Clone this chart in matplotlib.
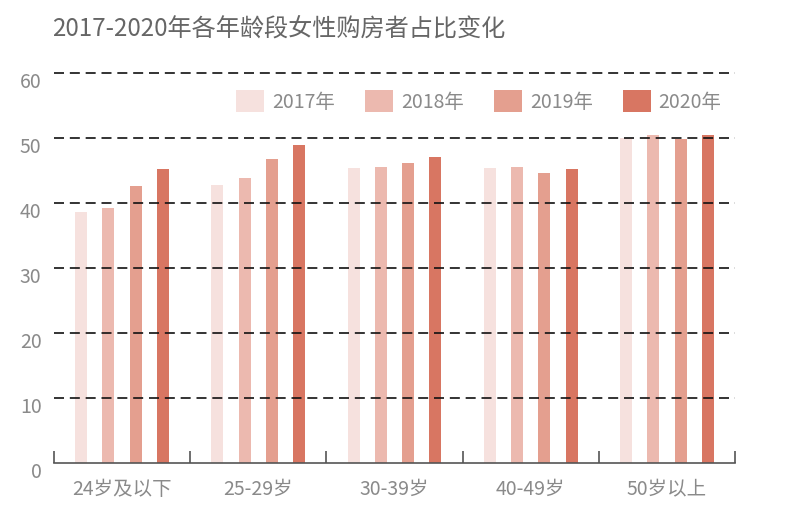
import matplotlib
matplotlib.use("Agg")
import matplotlib.pyplot as plt
import matplotlib.transforms as mtransforms
from matplotlib.patches import Patch
import numpy as np

plt.rcParams['font.family'] = ['Noto Sans CJK SC', 'DejaVu Sans']

title = "2017-2020年各年龄段女性购房者占比变化"
categories = ["24岁及以下", "25-29岁", "30-39岁", "40-49岁", "50岁以上"]
series_names = ["2017年", "2018年", "2019年", "2020年"]
v2017 = [38.6, 42.7, 45.4, 45.4, 50.0]
v2018 = [39.3, 43.9, 45.5, 45.5, 50.5]
v2019 = [42.6, 46.8, 46.2, 44.6, 49.9]
v2020 = [45.2, 49.0, 47.1, 45.3, 50.4]
yticks = [0, 10, 20, 30, 40, 50, 60]

colors = ["#F6E1DE", "#ECB9AF", "#E49F8F", "#D87662"]
series = [v2017, v2018, v2019, v2020]

fig = plt.figure(figsize=(7.91, 5.06), dpi=100)
ax = fig.add_axes([54/791, 1-464/506, (735-54)/791, (464-74)/506])

x = np.arange(len(categories))
offsets = [-0.3, -0.1, 0.1, 0.3]
width = 0.088
for s, off, c, name in zip(series, offsets, colors, series_names):
    ax.bar(x + off, s, width=width, color=c, zorder=2, label=name)

ax.set_xlim(-0.5, len(categories) - 0.5)
ax.set_ylim(0, 60)

for yv in yticks[1:]:
    ax.axhline(yv, color="#111111", lw=1.2, ls=(0, (6, 3.5)), zorder=3, clip_on=False)

for sp in ["top", "right", "left"]:
    ax.spines[sp].set_visible(False)
ax.spines["bottom"].set_color("#555555")
ax.spines["bottom"].set_linewidth(1.2)
ax.spines["bottom"].set_zorder(4)

ax.set_yticks(yticks)
ax.set_yticklabels([str(v) for v in yticks], color="#8a8a8a", fontsize=14)
ax.tick_params(axis="y", length=0, pad=9)
offset = mtransforms.ScaledTranslation(0, -6/100, fig.dpi_scale_trans)
for lab in ax.get_yticklabels():
    lab.set_transform(lab.get_transform() + offset)

ax.set_xticks(np.arange(len(categories) + 1) - 0.5)
ax.set_xticklabels([])
ax.tick_params(axis="x", which="major", direction="in", length=9, width=1.2, color="#555555")
ax.set_xticks(x, minor=True)
ax.set_xticklabels(categories, minor=True, color="#8a8a8a", fontsize=14)
ax.tick_params(axis="x", which="minor", length=0, pad=11)

fig.text(52/791, 1-30/506, title, fontsize=17.4, color="#666666", va="center", ha="left")

handles = [Patch(facecolor=c, edgecolor="none") for c in colors]
leg = fig.legend(handles, series_names, loc="center", bbox_to_anchor=(479/791, 1-102/506),
                 ncol=4, frameon=False, fontsize=14, handlelength=1.44, handleheight=1.44,
                 handletextpad=0.4, columnspacing=1.55)
for t in leg.get_texts():
    t.set_color("#8a8a8a")

fig.savefig("out.png", dpi=100)
